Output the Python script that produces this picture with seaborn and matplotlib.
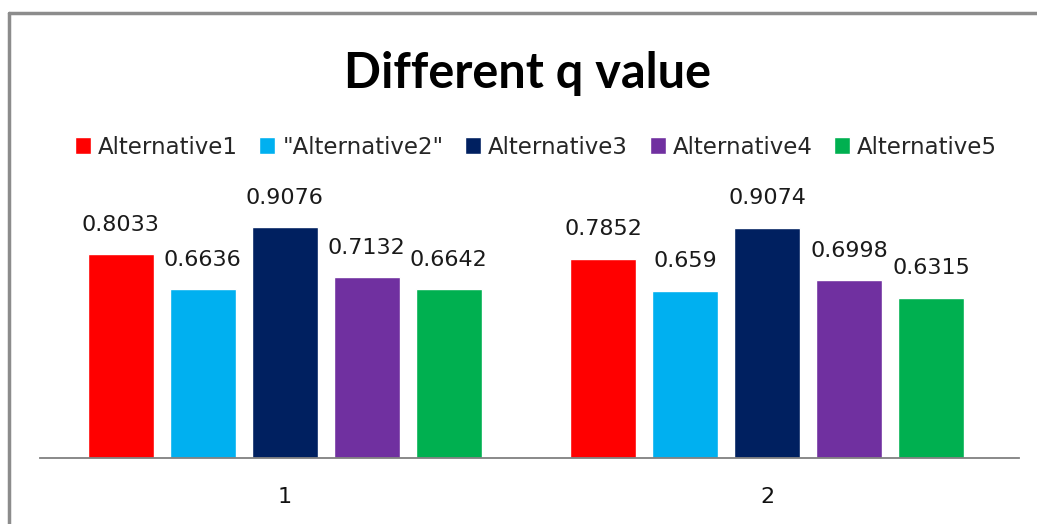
import pandas as pd
import seaborn as sns
import matplotlib.pyplot as plt
from matplotlib.lines import Line2D

groups = ['1', '2']
alternatives = ['Alternative1', '"Alternative2"', 'Alternative3', 'Alternative4', 'Alternative5']
values_1 = [0.8033, 0.6636, 0.9076, 0.7132, 0.6642]
values_2 = [0.7852, 0.659, 0.9074, 0.6998, 0.6315]
labels_1 = ['0.8033', '0.6636', '0.9076', '0.7132', '0.6642']
labels_2 = ['0.7852', '0.659', '0.9074', '0.6998', '0.6315']
colors = ['#FF0000', '#00B0F0', '#002060', '#7030A0', '#00B050']

rows = []
for g, vals in zip(groups, [values_1, values_2]):
    for a, v in zip(alternatives, vals):
        rows.append({'group': g, 'alternative': a, 'value': v})
df = pd.DataFrame(rows)

sns.set_style('white')
plt.rcParams['font.family'] = ['DejaVu Sans']

fig = plt.figure(figsize=(10.37, 5.24), dpi=100)
ax = fig.add_axes([40 / 1037, 1 - 458 / 524, 979 / 1037, 254 / 524])

sns.barplot(data=df, x='group', y='value', hue='alternative', order=groups,
            hue_order=alternatives, palette=colors, width=0.85, gap=0.195,
            saturation=1, ax=ax)

ax.set_ylim(0, 1.0)
ax.set_xlim(-0.507, 1.522)
ax.set_xlabel('')
ax.set_ylabel('')
ax.set_yticks([])
ax.tick_params(axis='x', length=0, pad=21, labelsize=16, labelcolor='#111111')
for s in ['top', 'right', 'left']:
    ax.spines[s].set_visible(False)
ax.spines['bottom'].set_color('#808080')
ax.spines['bottom'].set_linewidth(1.3)

# value labels above bars
all_labels = [labels_1, labels_2]
for i, cont in enumerate(ax.containers):
    for j, bar in enumerate(cont):
        ax.annotate(all_labels[j][i],
                    (bar.get_x() + bar.get_width() / 2, bar.get_height()),
                    xytext=(0, 21), textcoords='offset points',
                    ha='center', va='center', fontsize=16, color='#1a1a1a',
                    annotation_clip=False)

handles, lbls = ax.get_legend_handles_labels()
ax.legend_.remove()
fig.legend(handles, lbls, loc='center', bbox_to_anchor=(536 / 1037, 1 - 147 / 524),
           ncol=5, frameon=False, fontsize=16.5, handlelength=0.7,
           handleheight=0.7, handletextpad=0.3, columnspacing=0.95)

fig.text(528 / 1037, 1 - 73 / 524, 'Different q value', ha='center', va='center',
         fontsize=35, fontweight='bold', color='black', family=['Lato', 'DejaVu Sans'])

# outer chart frame (top and left edges only visible)
fig.add_artist(Line2D([9 / 1037, 1.0], [1 - 13 / 524, 1 - 13 / 524],
                      transform=fig.transFigure, color='#8c8c8c', linewidth=2.5))
fig.add_artist(Line2D([9 / 1037, 9 / 1037], [0, 1 - 13 / 524],
                      transform=fig.transFigure, color='#8c8c8c', linewidth=2.5))

fig.savefig('out.png', dpi=100)
